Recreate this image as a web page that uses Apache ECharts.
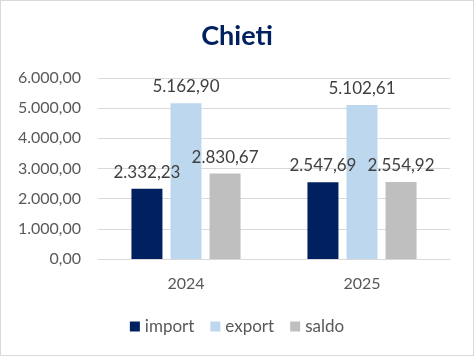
<!DOCTYPE html>
<html>
<head>
<meta charset="utf-8">
<script src="https://cdn.jsdelivr.net/npm/echarts@6/dist/echarts.min.js"></script>
<style>
	html, body { margin: 0; padding: 0; background: #fff; }
	#main { width: 474px; height: 356px; box-sizing: border-box; border: 1px solid #d9d9d9; }
</style>
</head>
<body>
<div id="main"></div>
<script>
//	dati
var anni = ['2024', '2025'];
var importVal = [2332.23, 2547.69];
var exportVal = [5162.90, 5102.61];
var saldoVal = [2830.67, 2554.92];
var nomiSerie = ['import', 'export', 'saldo'];

//	formato italiano 1.234,56
function fmt(v) {
	var s = v.toFixed(2).split('.');
	var intero = s[0].replace(/\B(?=(\d{3})+(?!\d))/g, '.');
	return intero + ',' + s[1];
}

var font = 'Lato';
var colori = ['#002060', '#bdd7ee', '#bfbfbf'];

function serie(nome, dati, colore) {
	return {
		name : nome,
		type : 'bar',
		data : dati,
		barGap : '26%',
		barCategoryGap : '38%',
		itemStyle : { color : colore },
		label : {
			show : true,
			position : 'top',
			distance : 8,
			color : '#404040',
			fontFamily : font,
			fontSize : 17,
			formatter : function(p) { return fmt(p.value); }
		}
	};
}

var chart = echarts.init(document.getElementById('main'));
chart.setOption({
	backgroundColor : '#fff',
	animation : false,
	color : colori,
	title : {
		text : 'Chieti',
		left : 'center',
		top : 17,
		textStyle : {
			color : '#002060',
			fontFamily : font,
			fontWeight : 'bold',
			fontSize : 27
		}
	},
	legend : {
		bottom : 15,
		left : 'center',
		itemWidth : 10,
		itemHeight : 10,
		itemGap : 16,
		icon : 'rect',
		textStyle : { color : '#595959', fontFamily : font, fontSize : 17 },
		data : nomiSerie
	},
	grid : { left : 97, right : 23, top : 77, bottom : 96 },
	xAxis : {
		type : 'category',
		data : anni,
		axisLine : { lineStyle : { color : '#d9d9d9' } },
		axisTick : { show : false },
		axisLabel : { color : '#595959', fontFamily : font, fontSize : 16, margin : 17 }
	},
	yAxis : {
		type : 'value',
		min : 0,
		max : 6000,
		interval : 1000,
		axisLine : { show : false },
		axisTick : { show : false },
		splitLine : { lineStyle : { color : '#d9d9d9', width : 1 } },
		axisLabel : {
			color : '#595959',
			fontFamily : font,
			fontSize : 16,
			margin : 17,
			formatter : function(v) { return fmt(v); }
		}
	},
	series : [
		serie(nomiSerie[0], importVal, colori[0]),
		serie(nomiSerie[1], exportVal, colori[1]),
		serie(nomiSerie[2], saldoVal, colori[2])
	]
});
</script>
</body>
</html>
